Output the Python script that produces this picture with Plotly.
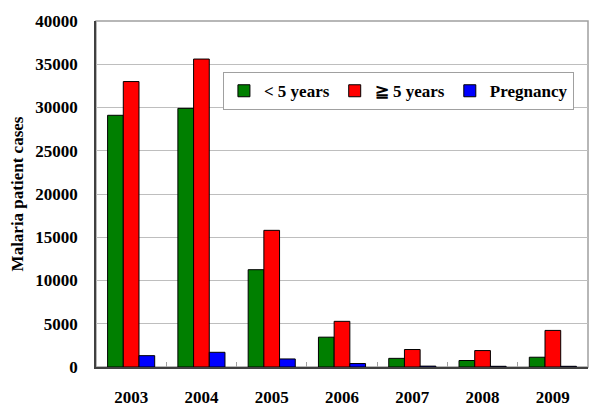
import plotly.graph_objects as go

# Malaria patient cases by year and group
years = ["2003", "2004", "2005", "2006", "2007", "2008", "2009"]
under5 = [29100, 29900, 11250, 3450, 1000, 750, 1130]
over5 = [33000, 35600, 15800, 5280, 2020, 1900, 4230]
pregnancy = [1310, 1700, 930, 400, 100, 80, 80]

series = [
    ("&lt; 5 years", under5, "#007F00"),
    ("\u2267 5 years", over5, "#FF0000"),
    ("Pregnancy", pregnancy, "#0000FF"),
]

font_family = "Liberation Serif"

fig = go.Figure()
for name, vals, color in series:
    fig.add_trace(go.Bar(
        x=years, y=vals, name=name,
        marker=dict(color=color, line=dict(color="black", width=1)),
    ))

# gray frame on top/right, axis lines drawn over it
fig.add_shape(type="rect", xref="paper", yref="paper", x0=0, x1=1, y0=0, y1=1,
              line=dict(color="#A0A0A0", width=1.5), layer="below")

# margins allow for the 8px body margin of the html page
fig.update_layout(
    width=600, height=414,
    margin=dict(l=88, r=20, t=13, b=55, autoexpand=False),
    paper_bgcolor="white", plot_bgcolor="white",
    barmode="group", bargap=0.33, bargroupgap=0,
    font=dict(family=font_family, size=16, color="black"),
    showlegend=True,
    legend=dict(
        orientation="h", x=0.258, y=0.852, xanchor="left", yanchor="top",
        bordercolor="#A0A0A0", borderwidth=1, bgcolor="white",
        font=dict(family=font_family, size=17, color="black", weight="bold"),
        itemwidth=30, tracegroupgap=0,
    ),
)

fig.update_xaxes(
    automargin=False,
    showline=True, linecolor="#404040", linewidth=1.5,
    ticks="inside", tickson="boundaries", ticklen=5, tickcolor="#A0A0A0",
    tickfont=dict(family=font_family, size=17, weight="bold"),
    ticklabelstandoff=14,
)
fig.update_yaxes(
    automargin=False,
    range=[0, 40000], dtick=5000, tickformat="d",
    showline=True, linecolor="#404040", linewidth=1.5,
    showgrid=True, gridcolor="#BEBEBE", gridwidth=1,
    ticks="",
    tickfont=dict(family=font_family, size=17, weight="bold"),
    ticklabelstandoff=13,
    zeroline=False,
    title=dict(text="Malaria patient cases", standoff=10,
               font=dict(family=font_family, size=17, weight="bold")),
)

fig.write_html("out.html")
